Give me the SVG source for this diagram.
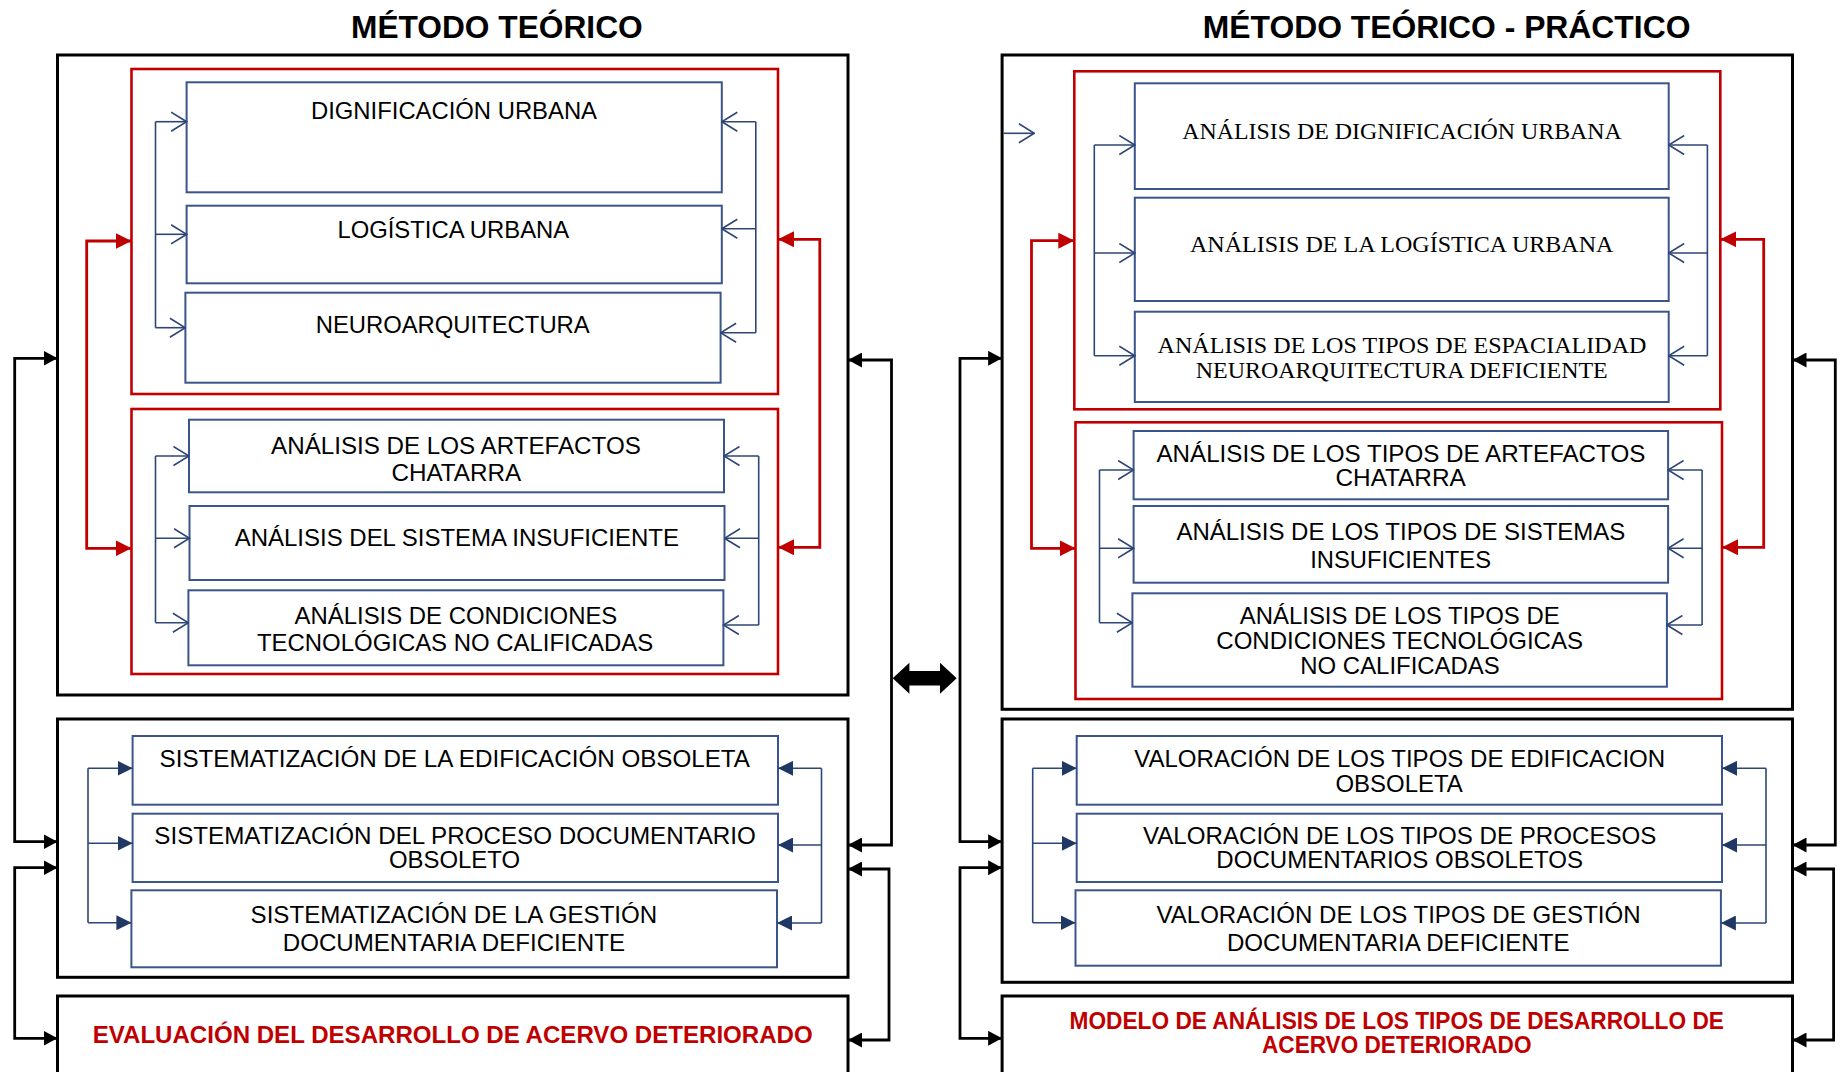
<svg xmlns="http://www.w3.org/2000/svg" width="1840" height="1072" viewBox="0 0 1840 1072">
<style>
.bg{fill:#ffffff}
text{transform:translateY(1.2px)}
.outer{fill:none;stroke:#000000;stroke-width:3}
.redbox{fill:none;stroke:#C00000;stroke-width:2.6}
.node{fill:#ffffff;stroke:#3A5589;stroke-width:2}
.t{font-family:"Liberation Sans",Arial,sans-serif;font-size:24px;fill:#000000}
.ts{font-family:"Liberation Serif","Times New Roman",serif;font-size:23.5px;fill:#000000}
.title{font-family:"Liberation Sans",Arial,sans-serif;font-size:31.5px;font-weight:bold;fill:#000000}
.rt{font-family:"Liberation Sans",Arial,sans-serif;font-size:23px;font-weight:bold;fill:#C00000}
.bl{fill:none;stroke:#2E4675;stroke-width:1.6}
.blo{fill:none;stroke:#2E4675;stroke-width:1.6;marker-end:url(#openB)}
.nv{fill:none;stroke:#2E4675;stroke-width:1.6;marker-end:url(#fillN)}
.rd{fill:none;stroke:#C00000;stroke-width:2.8;marker-start:url(#fillR);marker-end:url(#fillR)}
.bk{fill:none;stroke:#000000;stroke-width:2.8;marker-start:url(#fillK);marker-end:url(#fillK)}
</style>
<defs>
<marker id="openB" markerUnits="userSpaceOnUse" viewBox="0 0 17 21" refX="16" refY="10.5" markerWidth="17" markerHeight="21" orient="auto-start-reverse">
<path d="M0.5,1 L16,10.5 L0.5,20" fill="none" stroke="#2E4675" stroke-width="1.6"/>
</marker>
<marker id="fillN" markerUnits="userSpaceOnUse" viewBox="0 0 15 15" refX="15" refY="7.5" markerWidth="15" markerHeight="15" orient="auto-start-reverse">
<path d="M0,0 L15,7.5 L0,15 Z" fill="#1F3864"/>
</marker>
<marker id="fillR" markerUnits="userSpaceOnUse" viewBox="0 0 16 16" refX="16" refY="8" markerWidth="16" markerHeight="16" orient="auto-start-reverse">
<path d="M0,0 L16,8 L0,16 Z" fill="#C00000"/>
</marker>
<marker id="fillK" markerUnits="userSpaceOnUse" viewBox="0 0 14 15" refX="14" refY="7.5" markerWidth="14" markerHeight="15" orient="auto-start-reverse">
<path d="M0,0 L14,7.5 L0,15 Z" fill="#000000"/>
</marker>
</defs>
<rect class="bg" x="0" y="0" width="1840" height="1072"/>

<g id="title-left"><text class="title" x="351" y="37.3" textLength="291.7" lengthAdjust="spacingAndGlyphs">MÉTODO TEÓRICO</text></g>
<g id="title-right"><text class="title" x="1202.8" y="37.3" textLength="487.6" lengthAdjust="spacingAndGlyphs">MÉTODO TEÓRICO - PRÁCTICO</text></g>

<!-- LEFT HALF containers -->
<g id="box-left-1"><rect class="outer" x="57.5" y="55" width="790.5" height="640"/></g>
<g id="red-left-a"><rect class="redbox" x="131.5" y="69" width="646.5" height="325"/></g>
<g id="red-left-b"><rect class="redbox" x="131.5" y="409" width="646.5" height="265"/></g>
<g id="box-left-2"><rect class="outer" x="57.5" y="719" width="790.5" height="258.3"/></g>
<g id="box-left-3">
<rect class="outer" x="57.5" y="996" width="790.5" height="90"/>
<text class="rt" x="92.7" y="1041.7" textLength="720" lengthAdjust="spacingAndGlyphs">EVALUACIÓN DEL DESARROLLO DE ACERVO DETERIORADO</text>
</g>

<!-- RIGHT HALF containers -->
<g id="box-right-1"><rect class="outer" x="1002.1" y="55" width="790.4" height="654.3"/></g>
<g id="red-right-a"><rect class="redbox" x="1074.3" y="71.3" width="646" height="338"/></g>
<g id="red-right-b"><rect class="redbox" x="1075.5" y="422.3" width="646.5" height="276.7"/></g>
<g id="box-right-2"><rect class="outer" x="1002.1" y="719" width="790.4" height="263.3"/></g>
<g id="box-right-3">
<rect class="outer" x="1002.1" y="996" width="790.4" height="90"/>
<text class="rt" x="1069.6" y="1028.3" textLength="654.3" lengthAdjust="spacingAndGlyphs">MODELO DE ANÁLISIS DE LOS TIPOS DE DESARROLLO DE</text>
<text class="rt" x="1262" y="1052.3" textLength="269.5" lengthAdjust="spacingAndGlyphs">ACERVO DETERIORADO</text>
</g>

<!-- LEFT nodes -->
<g id="n-dignificacion">
<rect class="node" x="186.6" y="82.3" width="535.2" height="110"/>
<text class="t" x="311" y="118.3" textLength="286" lengthAdjust="spacingAndGlyphs">DIGNIFICACIÓN URBANA</text>
</g>
<g id="n-logistica">
<rect class="node" x="186.6" y="205.7" width="535.2" height="77.6"/>
<text class="t" x="337.4" y="237.3" textLength="231.8" lengthAdjust="spacingAndGlyphs">LOGÍSTICA URBANA</text>
</g>
<g id="n-neuro">
<rect class="node" x="185.4" y="292.7" width="535.2" height="90"/>
<text class="t" x="315.7" y="332.3" textLength="274" lengthAdjust="spacingAndGlyphs">NEUROARQUITECTURA</text>
</g>
<g id="n-artefactos">
<rect class="node" x="189" y="419.7" width="535" height="72.6"/>
<text class="t" x="271.1" y="452.7" textLength="369.7" lengthAdjust="spacingAndGlyphs">ANÁLISIS DE LOS ARTEFACTOS</text>
<text class="t" x="391.4" y="480" textLength="129.7" lengthAdjust="spacingAndGlyphs">CHATARRA</text>
</g>
<g id="n-sistema">
<rect class="node" x="189.5" y="506" width="535" height="74"/>
<text class="t" x="234.7" y="545" textLength="444.2" lengthAdjust="spacingAndGlyphs">ANÁLISIS DEL SISTEMA INSUFICIENTE</text>
</g>
<g id="n-condiciones">
<rect class="node" x="188.4" y="590.3" width="535" height="75"/>
<text class="t" x="294.6" y="622.7" textLength="322.7" lengthAdjust="spacingAndGlyphs">ANÁLISIS DE CONDICIONES</text>
<text class="t" x="257" y="650" textLength="396.1" lengthAdjust="spacingAndGlyphs">TECNOLÓGICAS NO CALIFICADAS</text>
</g>
<g id="n-sist-edificacion">
<rect class="node" x="132.6" y="736" width="645.4" height="68.7"/>
<text class="t" x="159.6" y="766" textLength="590.4" lengthAdjust="spacingAndGlyphs">SISTEMATIZACIÓN DE LA EDIFICACIÓN OBSOLETA</text>
</g>
<g id="n-sist-proceso">
<rect class="node" x="132.6" y="813.7" width="645.4" height="68.3"/>
<text class="t" x="154.3" y="842.7" textLength="601.5" lengthAdjust="spacingAndGlyphs">SISTEMATIZACIÓN DEL PROCESO DOCUMENTARIO</text>
<text class="t" x="389" y="867.3" textLength="131" lengthAdjust="spacingAndGlyphs">OBSOLETO</text>
</g>
<g id="n-sist-gestion">
<rect class="node" x="131.4" y="890.3" width="645.6" height="77"/>
<text class="t" x="250.6" y="921.7" textLength="406.6" lengthAdjust="spacingAndGlyphs">SISTEMATIZACIÓN DE LA GESTIÓN</text>
<text class="t" x="282.8" y="950" textLength="342.2" lengthAdjust="spacingAndGlyphs">DOCUMENTARIA DEFICIENTE</text>
</g>

<!-- RIGHT nodes -->
<g id="m-dignificacion">
<rect class="node" x="1134.8" y="83.3" width="533.9" height="105.7"/>
<text class="ts" x="1182.3" y="138.3" textLength="439.5" lengthAdjust="spacingAndGlyphs">ANÁLISIS DE DIGNIFICACIÓN URBANA</text>
</g>
<g id="m-logistica">
<rect class="node" x="1134.8" y="197.7" width="533.9" height="103.3"/>
<text class="ts" x="1189.9" y="250.7" textLength="423.6" lengthAdjust="spacingAndGlyphs">ANÁLISIS DE LA LOGÍSTICA URBANA</text>
</g>
<g id="m-espacialidad">
<rect class="node" x="1134.8" y="311.7" width="533.9" height="90.3"/>
<text class="ts" x="1157.6" y="352.3" textLength="488.8" lengthAdjust="spacingAndGlyphs">ANÁLISIS DE LOS TIPOS DE ESPACIALIDAD</text>
<text class="ts" x="1195.8" y="377.3" textLength="411.9" lengthAdjust="spacingAndGlyphs">NEUROARQUITECTURA DEFICIENTE</text>
</g>
<g id="m-artefactos">
<rect class="node" x="1133.6" y="431" width="534.5" height="68.3"/>
<text class="t" x="1156.5" y="461" textLength="488.8" lengthAdjust="spacingAndGlyphs">ANÁLISIS DE LOS TIPOS DE ARTEFACTOS</text>
<text class="t" x="1335.5" y="485" textLength="130.2" lengthAdjust="spacingAndGlyphs">CHATARRA</text>
</g>
<g id="m-sistemas">
<rect class="node" x="1133.6" y="506" width="534.5" height="76.7"/>
<text class="t" x="1176.4" y="539.3" textLength="448.9" lengthAdjust="spacingAndGlyphs">ANÁLISIS DE LOS TIPOS DE SISTEMAS</text>
<text class="t" x="1310.2" y="566.7" textLength="180.8" lengthAdjust="spacingAndGlyphs">INSUFICIENTES</text>
</g>
<g id="m-condiciones">
<rect class="node" x="1132.4" y="593.3" width="534.5" height="93.4"/>
<text class="t" x="1239.8" y="623.3" textLength="319.8" lengthAdjust="spacingAndGlyphs">ANÁLISIS DE LOS TIPOS DE</text>
<text class="t" x="1216.3" y="648.3" textLength="366.7" lengthAdjust="spacingAndGlyphs">CONDICIONES TECNOLÓGICAS</text>
<text class="t" x="1300.3" y="673.3" textLength="199.5" lengthAdjust="spacingAndGlyphs">NO CALIFICADAS</text>
</g>
<g id="m-val-edificacion">
<rect class="node" x="1076.7" y="736" width="645.3" height="68.7"/>
<text class="t" x="1134.2" y="766" textLength="531" lengthAdjust="spacingAndGlyphs">VALORACIÓN DE LOS TIPOS DE EDIFICACION</text>
<text class="t" x="1335.5" y="790.7" textLength="127.3" lengthAdjust="spacingAndGlyphs">OBSOLETA</text>
</g>
<g id="m-val-procesos">
<rect class="node" x="1076.7" y="813.7" width="645.3" height="68.3"/>
<text class="t" x="1143" y="842.7" textLength="513.4" lengthAdjust="spacingAndGlyphs">VALORACIÓN DE LOS TIPOS DE PROCESOS</text>
<text class="t" x="1216.3" y="867.3" textLength="366.7" lengthAdjust="spacingAndGlyphs">DOCUMENTARIOS OBSOLETOS</text>
</g>
<g id="m-val-gestion">
<rect class="node" x="1075.5" y="890.3" width="645.4" height="75.4"/>
<text class="t" x="1156.5" y="921.7" textLength="484.1" lengthAdjust="spacingAndGlyphs">VALORACIÓN DE LOS TIPOS DE GESTIÓN</text>
<text class="t" x="1226.9" y="950" textLength="342.7" lengthAdjust="spacingAndGlyphs">DOCUMENTARIA DEFICIENTE</text>
</g>

<g id="connectors">
<!-- left red A blue connectors -->
<path class="bl" d="M155.5,121.7 V327.7"/>
<path class="blo" d="M155.5,121.7 H186.6"/>
<path class="blo" d="M155.5,234.3 H186.6"/>
<path class="blo" d="M155.5,327.7 H185.4"/>
<path class="bl" d="M755.8,121.7 V332.7"/>
<path class="blo" d="M755.8,121.7 H721.8"/>
<path class="blo" d="M755.8,228.7 H721.8"/>
<path class="blo" d="M755.8,332.7 H720.6"/>
<!-- left red B -->
<path class="bl" d="M155.5,456 V622.7"/>
<path class="blo" d="M155.5,456 H189"/>
<path class="blo" d="M155.5,538.3 H189.5"/>
<path class="blo" d="M155.5,622.7 H188.4"/>
<path class="bl" d="M758.7,456 V625"/>
<path class="blo" d="M758.7,456 H724"/>
<path class="blo" d="M758.7,538.3 H724.5"/>
<path class="blo" d="M758.7,625 H723.4"/>
<!-- left box 2 navy -->
<path class="bl" d="M88,768.3 V922.7"/>
<path class="nv" d="M88,768.3 H132.6"/>
<path class="nv" d="M88,843.3 H132.6"/>
<path class="nv" d="M88,922.7 H131.4"/>
<path class="bl" d="M821.5,768.3 V923"/>
<path class="nv" d="M821.5,768.3 H778"/>
<path class="nv" d="M821.5,845 H778"/>
<path class="nv" d="M821.5,923 H777"/>
<!-- right red A blue -->
<path class="blo" d="M1003.3,133.3 H1034.4"/>
<path class="bl" d="M1094.3,145 V355.7"/>
<path class="blo" d="M1094.3,145 H1134.8"/>
<path class="blo" d="M1094.3,253 H1134.8"/>
<path class="blo" d="M1094.3,355.7 H1134.8"/>
<path class="bl" d="M1707.4,145 V355.7"/>
<path class="blo" d="M1707.4,145 H1668.7"/>
<path class="blo" d="M1707.4,253 H1668.7"/>
<path class="blo" d="M1707.4,355.7 H1668.7"/>
<!-- right red B -->
<path class="bl" d="M1099.5,470 V622.7"/>
<path class="blo" d="M1099.5,470 H1133.6"/>
<path class="blo" d="M1099.5,548.3 H1133.6"/>
<path class="blo" d="M1099.5,622.7 H1132.4"/>
<path class="bl" d="M1702.1,470 V625"/>
<path class="blo" d="M1702.1,470 H1668.1"/>
<path class="blo" d="M1702.1,548.3 H1668.1"/>
<path class="blo" d="M1702.1,625 H1666.9"/>
<!-- right box 2 navy -->
<path class="bl" d="M1032.7,768.3 V922.7"/>
<path class="nv" d="M1032.7,768.3 H1076.7"/>
<path class="nv" d="M1032.7,843.3 H1076.7"/>
<path class="nv" d="M1032.7,922.7 H1075.5"/>
<path class="bl" d="M1766,768.3 V923"/>
<path class="nv" d="M1766,768.3 H1722"/>
<path class="nv" d="M1766,845 H1722"/>
<path class="nv" d="M1766,923 H1720.9"/>
<!-- red links -->
<path class="rd" d="M131.5,241 H86.7 V548.3 H131.5"/>
<path class="rd" d="M778,239.3 H819.8 V547.3 H778"/>
<path class="rd" d="M1074.3,240.7 H1031.5 V548.3 H1075.5"/>
<path class="rd" d="M1720.3,239.3 H1763.7 V547.3 H1722"/>
<!-- black links -->
<path class="bk" d="M57.5,358.3 H14.7 V841.7 H57.5"/>
<path class="bk" d="M57.5,867.7 H14.7 V1038.3 H57.5"/>
<path class="bk" d="M848,360 H891.5 V845 H848"/>
<path class="bk" d="M848,869 H889 V1040 H848"/>
<path class="bk" d="M1002.1,358.3 H960 V841.7 H1002.1"/>
<path class="bk" d="M1002.1,867.7 H960 V1038.3 H1002.1"/>
<path class="bk" d="M1792.5,360 H1835.3 V845 H1792.5"/>
<path class="bk" d="M1792.5,869 H1833.6 V1040 H1792.5"/>
<!-- central double arrow -->
<polygon points="892.7,678.3 909.4,662.8 909.4,671 940,671 940,662.8 956.7,678.3 940,693.8 940,685.6 909.4,685.6 909.4,693.8" fill="#000000"/>
</g>
</svg>
